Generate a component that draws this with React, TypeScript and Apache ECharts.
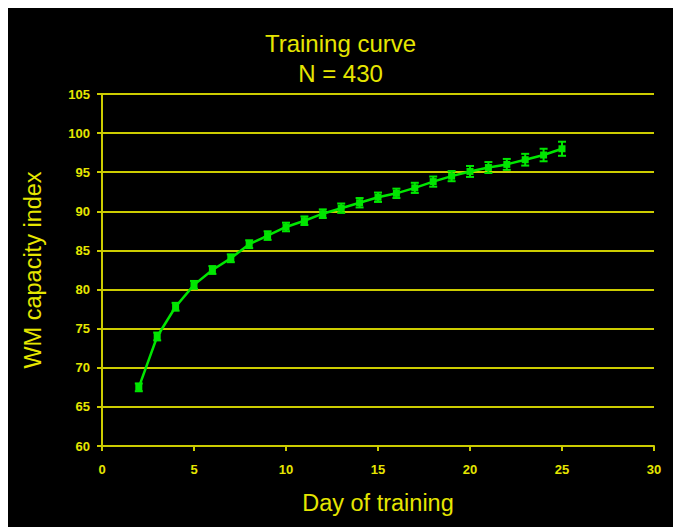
import React, { useEffect, useRef } from "react";
import * as echarts from "echarts";

const days = [2, 3, 4, 5, 6, 7, 8, 9, 10, 11, 12, 13, 14, 15, 16, 17, 18, 19, 20, 21, 22, 23, 24, 25];
const wmIndex = [67.5, 74.0, 77.8, 80.6, 82.5, 84.0, 85.8, 86.9, 88.0, 88.8, 89.7, 90.4, 91.1, 91.8, 92.3, 93.0, 93.8, 94.5, 95.1, 95.6, 96.0, 96.6, 97.2, 98.0];
const errors = [0.5, 0.5, 0.5, 0.5, 0.5, 0.5, 0.5, 0.55, 0.55, 0.55, 0.55, 0.6, 0.6, 0.6, 0.6, 0.65, 0.65, 0.65, 0.7, 0.7, 0.7, 0.75, 0.8, 0.9];
const titleLines = ["Training curve", "N = 430"];
const xAxisName = "Day of training";
const yAxisName = "WM capacity index";

const YELLOW_TEXT = "#e6e600";
const YELLOW_LINE = "#cccc00";
const GREEN = "#00e600";
const FONT = "'Liberation Sans', Arial, sans-serif";

export default function App() {
  const ref = useRef<HTMLDivElement>(null);
  useEffect(() => {
    if (!ref.current) return;
    const chart = echarts.init(ref.current, undefined, { renderer: "svg" });
    const lineData = days.map((d, i) => [d, wmIndex[i]]);
    const errData = days.map((d, i) => [d, wmIndex[i] - errors[i], wmIndex[i] + errors[i]]);
    chart.setOption({
      animation: false,
      backgroundColor: "#000000",
      title: {
        text: titleLines.join("\n"),
        left: "center",
        top: 15,
        textStyle: {
          color: YELLOW_TEXT,
          fontFamily: FONT,
          fontSize: 24,
          fontWeight: "normal",
          lineHeight: 30,
        },
      },
      grid: { left: 94, right: 19, top: 86, bottom: 81 },
      xAxis: {
        type: "value",
        min: 0,
        max: 30,
        interval: 5,
        name: xAxisName,
        nameLocation: "middle",
        nameGap: 45,
        nameTextStyle: { color: YELLOW_TEXT, fontFamily: FONT, fontSize: 23.5 },
        axisLine: { show: true, lineStyle: { color: YELLOW_LINE, width: 2 } },
        axisTick: { show: true, length: 5, lineStyle: { color: YELLOW_LINE, width: 2 } },
        axisLabel: { color: YELLOW_TEXT, fontFamily: FONT, fontSize: 13, fontWeight: "bold", margin: 17 },
        splitLine: { show: false },
      },
      yAxis: {
        type: "value",
        min: 60,
        max: 105,
        interval: 5,
        name: yAxisName,
        nameLocation: "middle",
        nameRotate: 90,
        nameGap: 57,
        nameTextStyle: { color: YELLOW_TEXT, fontFamily: FONT, fontSize: 23.5 },
        axisLine: { show: true, lineStyle: { color: YELLOW_LINE, width: 2 } },
        axisTick: { show: true, length: 5, lineStyle: { color: YELLOW_LINE, width: 2 } },
        axisLabel: { color: YELLOW_TEXT, fontFamily: FONT, fontSize: 13, fontWeight: "bold", margin: 12 },
        splitLine: { show: true, lineStyle: { color: YELLOW_LINE, width: 2 } },
      },
      series: [
        {
          type: "line",
          data: lineData,
          symbol: "rect",
          symbolSize: 7,
          itemStyle: { color: GREEN },
          lineStyle: { color: GREEN, width: 2.5 },
          z: 3,
        },
        {
          type: "custom",
          data: errData,
          z: 4,
          renderItem: (params: any, api: any) => {
            const x = api.value(0);
            const lo = api.coord([x, api.value(1)]);
            const hi = api.coord([x, api.value(2)]);
            const cap = 4;
            const style = { stroke: GREEN, lineWidth: 2 };
            return {
              type: "group",
              children: [
                { type: "line", shape: { x1: lo[0], y1: lo[1], x2: hi[0], y2: hi[1] }, style },
                { type: "line", shape: { x1: lo[0] - cap, y1: lo[1], x2: lo[0] + cap, y2: lo[1] }, style },
                { type: "line", shape: { x1: hi[0] - cap, y1: hi[1], x2: hi[0] + cap, y2: hi[1] }, style },
              ],
            };
          },
        },
      ],
    });
    return () => chart.dispose();
  }, []);
  return (
    <div
      ref={ref}
      style={{ position: "fixed", left: 8, top: 8, width: 665, height: 519 }}
    />
  );
}
